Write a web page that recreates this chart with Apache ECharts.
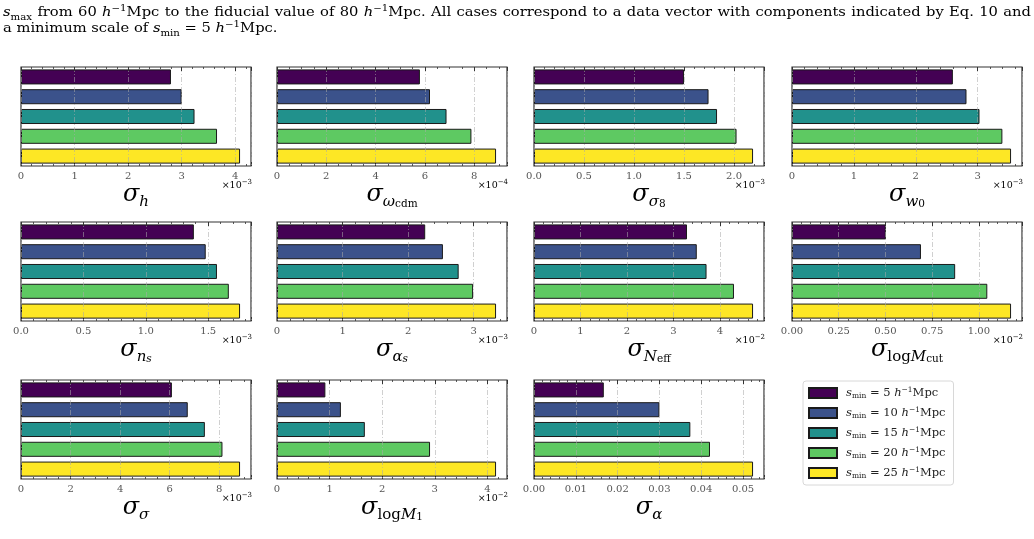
<!DOCTYPE html>
<html>
<head>
<meta charset="utf-8">
<script src="https://cdn.jsdelivr.net/npm/echarts@6/dist/echarts.min.js"></script>
<style>html,body{margin:0;padding:0;background:#fff;}#c{width:1034px;height:539px;}</style>
</head>
<body>
<div id="c"></div>
<script>
// ---------------- data ----------------
const S_MIN = [5, 10, 15, 20, 25];               // h^-1 Mpc
// forecast errors, in units of 10^EXP (see SCALE_EXP)
const sigma_h        = [2.80, 3.00, 3.24, 3.66, 4.09];
const sigma_omegacdm = [5.80, 6.21, 6.88, 7.89, 8.89];
const sigma_sigma8   = [1.50, 1.745, 1.83, 2.025, 2.19];
const sigma_w0       = [2.60, 2.82, 3.03, 3.40, 3.54];
const sigma_ns       = [1.385, 1.48, 1.57, 1.665, 1.755];
const sigma_alphas   = [2.26, 2.53, 2.77, 2.99, 3.34];
const sigma_Neff     = [3.29, 3.50, 3.71, 4.30, 4.71];
const sigma_logMcut  = [0.502, 0.69, 0.873, 1.045, 1.172];
const sigma_sigma    = [6.09, 6.73, 7.42, 8.13, 8.84];
const sigma_logM1    = [0.92, 1.215, 1.67, 2.91, 4.165];
const sigma_alpha    = [0.0167, 0.0300, 0.0374, 0.0421, 0.0524];
const PANEL_VALUES = [sigma_h, sigma_omegacdm, sigma_sigma8, sigma_w0, sigma_ns, sigma_alphas,
                      sigma_Neff, sigma_logMcut, sigma_sigma, sigma_logM1, sigma_alpha];
const SCALE_EXP = ['−3', '−4', '−3', '−3', '−3', '−3', '−2', '−2', '−3', '−2', null];
const TICK_STEP = [1, 2, 0.5, 1, 0.5, 1, 1, 0.25, 2, 1, 0.01];
const TICK_DECIMALS = [0, 0, 1, 0, 1, 0, 0, 2, 0, 0, 2];
const MINOR_SPLIT = [5, 4, 5, 5, 5, 5, 5, 5, 4, 5, 5];
const TITLES = [
  [['sig','σ'],['s1i','h']],
  [['sig','σ'],['s1i','ω'],['s2','cdm']],
  [['sig','σ'],['s1i','σ'],['s2','8']],
  [['sig','σ'],['s1i','w'],['s2','0']],
  [['sig','σ'],['s1i','n'],['s2i','s']],
  [['sig','σ'],['s1i','α'],['s2i','s']],
  [['sig','σ'],['s1i','N'],['s2','eff']],
  [['sig','σ'],['s1','log'],['s1i','M'],['s2','cut']],
  [['sig','σ'],['s1i','σ']],
  [['sig','σ'],['s1','log'],['s1i','M'],['s2','1']],
  [['sig','σ'],['s1i','α']]
];
const CAPTION_1 = [['it','s'],['sub','max'],' from 60 ',['it','h'],['sup','−1'],
  'Mpc to the fiducial value of 80 ',['it','h'],['sup','−1'],
  'Mpc. All cases correspond to a data vector with components indicated by Eq. ',['link','10'],' and'];
const CAPTION_2 = [['rm','a minimum scale of '],['it','s'],['sub','min'],['rm',' = 5 '],['it','h'],['sup','−1'],['rm','Mpc.']];

// ---------------- style / layout ----------------
const FONT = '"DejaVu Serif", "Liberation Serif", serif';
const COLORS = ['#440154', '#3b528b', '#21918c', '#5ec962', '#fde725'];
const COL_X = [21, 277, 534, 792];
const ROW_Y = [67, 222, 380];
const PLOT_W = 230, PLOT_H = 99;

const chart = echarts.init(document.getElementById('c'), null, {renderer: 'canvas'});

const grids = [], xAxes = [], yAxes = [], series = [], graphics = [];
const titleRich = {
  sig: {fontFamily: FONT, fontSize: 24, fontStyle: 'italic', color: '#111', lineHeight: 30, verticalAlign: 'middle'},
  s1:  {fontFamily: FONT, fontSize: 15, color: '#111', lineHeight: 18, verticalAlign: 'bottom'},
  s1i: {fontFamily: FONT, fontSize: 15, fontStyle: 'italic', color: '#111', lineHeight: 18, verticalAlign: 'bottom'},
  s2:  {fontFamily: FONT, fontSize: 10.5, color: '#111', lineHeight: 8, verticalAlign: 'bottom'},
  s2i: {fontFamily: FONT, fontSize: 10.5, fontStyle: 'italic', color: '#111', lineHeight: 8, verticalAlign: 'bottom'}
};
const offRich = {
  a: {fontFamily: FONT, fontSize: 9.5, color: '#555', lineHeight: 12, verticalAlign: 'bottom'},
  b: {fontFamily: FONT, fontSize: 7, color: '#555', lineHeight: 12, verticalAlign: 'top'}
};

PANEL_VALUES.forEach((vals, i) => {
  const col = i % 4, row = Math.floor(i / 4);
  const left = COL_X[col], top = ROW_Y[row];
  const xmax = Math.max(...vals) * 1.05;
  const step = TICK_STEP[i], dec = TICK_DECIMALS[i];
  grids.push({left: left, top: top, width: PLOT_W, height: PLOT_H, show: true,
              borderColor: '#333', borderWidth: 1.2, backgroundColor: 'transparent', containLabel: false});
  const common = {
    type: 'value', gridIndex: i, min: 0, max: xmax, interval: step,
    axisLine: {show: false},
    axisTick: {show: true, inside: true, length: 4, lineStyle: {color: '#333', width: 1}},
    minorTick: {show: true, splitNumber: MINOR_SPLIT[i], length: 2, lineStyle: {color: '#333', width: 0.8}},
    minorSplitLine: {show: false}
  };
  xAxes.push(Object.assign({}, common, {
    position: 'bottom',
    splitLine: {show: false},
    axisLabel: {show: true, margin: 5, fontFamily: FONT, fontSize: 10, color: '#555', showMaxLabel: false,
                formatter: v => (Math.abs(v / step - Math.round(v / step)) < 1e-6) ? v.toFixed(dec) : ''}
  }));
  xAxes.push(Object.assign({}, common, {
    position: 'top', z: 5,
    splitLine: {show: true, lineStyle: {color: 'rgba(170,170,170,0.55)', width: 1, type: [5, 2, 1, 2]}},
    axisLabel: {show: false}
  }));
  yAxes.push({type: 'category', gridIndex: i, inverse: true, data: S_MIN.map(String),
              axisLine: {show: false}, axisTick: {show: false}, axisLabel: {show: false}, splitLine: {show: false}});
  S_MIN.forEach((s, k) => {
    series.push({
      type: 'bar', name: String(s), xAxisIndex: 2 * i, yAxisIndex: i, stack: 'p' + i,
      barCategoryGap: '24%', z: 2,
      data: vals.map((v, j) => (j === k ? v : '-')),
      itemStyle: {color: COLORS[k], borderColor: '#1a1a1a', borderWidth: 1},
      emphasis: {disabled: true}, silent: true
    });
  });
  // title
  graphics.push({type: 'text', x: left + PLOT_W / 2, y: top + PLOT_H + 29,
    style: {text: TITLES[i].map(t => '{' + t[0] + '|' + t[1] + '}').join(''), rich: titleRich,
            align: 'center', verticalAlign: 'middle'}});
  if (SCALE_EXP[i]) {
    graphics.push({type: 'text', x: left + PLOT_W + 1, y: top + PLOT_H + 19,
      style: {text: '{a|×10}{b|' + SCALE_EXP[i] + '}', rich: offRich, align: 'right', verticalAlign: 'middle'}});
  }
});

// ---------------- caption (justified first line) ----------------
const CAP_FS = 13;
const capRich = {
  rm:   {fontFamily: FONT, fontSize: CAP_FS, color: '#1a1a1a', lineHeight: 18, verticalAlign: 'middle'},
  it:   {fontFamily: FONT, fontSize: CAP_FS, fontStyle: 'italic', color: '#1a1a1a', lineHeight: 18, verticalAlign: 'middle'},
  link: {fontFamily: FONT, fontSize: CAP_FS, color: '#2a6fa8', lineHeight: 18, verticalAlign: 'middle'},
  sub:  {fontFamily: FONT, fontSize: 9, color: '#1a1a1a', lineHeight: 10, verticalAlign: 'bottom'},
  sup:  {fontFamily: FONT, fontSize: 9, color: '#1a1a1a', lineHeight: 10, verticalAlign: 'top'}
};
const mctx = document.createElement('canvas').getContext('2d');
function measure(style, txt) {
  const r = capRich[style];
  mctx.font = (r.fontStyle === 'italic' ? 'italic ' : '') + r.fontSize + 'px ' + FONT;
  return mctx.measureText(txt).width;
}
function tokenize(parts) {
  const toks = [];
  parts.forEach(p => {
    if (typeof p === 'string') {
      p.split(/( )/).forEach(w => { if (w === ' ') toks.push(['sp', ' ']); else if (w) toks.push(['rm', w]); });
    } else toks.push(p);
  });
  return toks;
}
// horizontal scale chosen so that the first line, with natural word spacing, spans the page width
const line1 = tokenize(CAPTION_1);
let used = 0, nsp = 0;
line1.forEach(t => { if (t[0] === 'sp') nsp++; else used += measure(t[0], t[1]); });
const spNat = measure('rm', ' ') * 1.15;
const capScale = 1028 / (used + nsp * spNat);
capRich.sp = {fontFamily: FONT, fontSize: CAP_FS, lineHeight: 18, width: spNat};
graphics.push({type: 'text', x: 3, y: 13, scaleX: capScale,
  style: {text: line1.map(t => '{' + t[0] + '|' + t[1] + '}').join(''), rich: capRich, align: 'left', verticalAlign: 'middle'}});
graphics.push({type: 'text', x: 3, y: 29, scaleX: capScale,
  style: {text: CAPTION_2.map(t => '{' + t[0] + '|' + t[1] + '}').join(''), rich: capRich, align: 'left', verticalAlign: 'middle'}});

// ---------------- legend ----------------
const legendRich = {
  it:  {fontFamily: FONT, fontSize: 11.5, fontStyle: 'italic', color: '#222', lineHeight: 14, verticalAlign: 'middle', padding: [0, 0, 0, 4]},
  rm:  {fontFamily: FONT, fontSize: 11.5, color: '#222', lineHeight: 14, verticalAlign: 'middle'},
  hi:  {fontFamily: FONT, fontSize: 11.5, fontStyle: 'italic', color: '#222', lineHeight: 14, verticalAlign: 'middle'},
  sub: {fontFamily: FONT, fontSize: 7.5, color: '#222', lineHeight: 9, verticalAlign: 'bottom'},
  sup: {fontFamily: FONT, fontSize: 7.5, color: '#222', lineHeight: 9, verticalAlign: 'top'}
};

chart.setOption({
  animation: false,
  backgroundColor: '#fff',
  grid: grids, xAxis: xAxes, yAxis: yAxes, series: series,
  legend: {
    orient: 'vertical', left: 803, top: 381,
    data: S_MIN.map(String), icon: 'rect', itemWidth: 28, itemHeight: 10, itemGap: 6,
    padding: [5, 8, 5, 5], borderColor: '#d8d8d8', borderWidth: 1, borderRadius: 3, backgroundColor: '#fff',
    selectedMode: false,
    formatter: n => '{it|s}{sub|min}{rm| = ' + n + ' }{hi|h}{sup|−1}{rm|Mpc}',
    textStyle: {fontFamily: FONT, fontSize: 11.5, color: '#222', rich: legendRich}
  },
  graphic: graphics
});
</script>
</body>
</html>
